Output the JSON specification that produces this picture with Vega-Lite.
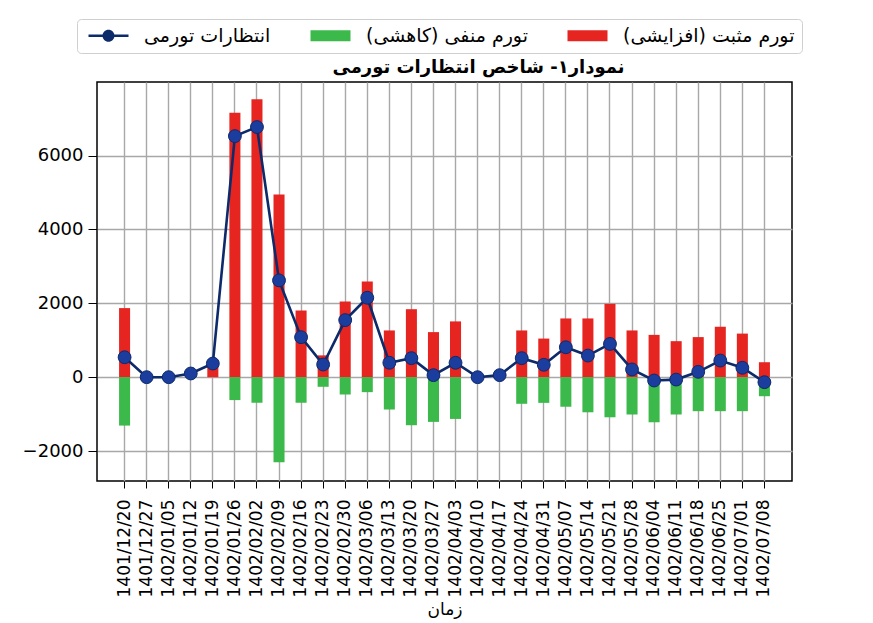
{
  "$schema": "https://vega.github.io/schema/vega-lite/v6.json",
  "autosize": {"type": "none"},
  "padding": {"left": 97, "top": 82, "right": 81, "bottom": 142},
  "width": 695,
  "height": 399,
  "background": "white",
  "title": {
    "text": "نمودار۱- شاخص انتظارات تورمی",
    "font": "DejaVu Sans",
    "fontSize": 18,
    "fontWeight": "bold",
    "color": "#000000",
    "anchor": "middle",
    "dx": 34,
    "offset": -58
  },
  "config": {
    "view": {"stroke": "#000000", "strokeWidth": 1.5},
    "axis": {
      "labelFont": "DejaVu Sans",
      "labelFontSize": 17,
      "labelColor": "#000000",
      "titleFont": "DejaVu Sans",
      "titleFontSize": 17,
      "titleFontWeight": "normal",
      "titleColor": "#000000",
      "domain": false,
      "tickColor": "#000000",
      "tickSize": 7,
      "gridColor": "#a8a8a8",
      "gridWidth": 1.4,
      "gridOpacity": 1
    },
    "legend": {
      "labelFont": "DejaVu Sans",
      "labelFontSize": 19,
      "labelColor": "#000000",
      "labelLimit": 400
    }
  },
  "data": {
    "values": [
      {"date": "1401/12/20", "series": "تورم مثبت (افزایشی)", "value": 1870},
      {"date": "1401/12/20", "series": "تورم منفی (کاهشی)", "value": -1310},
      {"date": "1401/12/20", "series": "انتظارات تورمی", "value": 540},
      {"date": "1401/12/27", "series": "تورم مثبت (افزایشی)", "value": 0},
      {"date": "1401/12/27", "series": "تورم منفی (کاهشی)", "value": 0},
      {"date": "1401/12/27", "series": "انتظارات تورمی", "value": 0},
      {"date": "1402/01/05", "series": "تورم مثبت (افزایشی)", "value": 0},
      {"date": "1402/01/05", "series": "تورم منفی (کاهشی)", "value": 0},
      {"date": "1402/01/05", "series": "انتظارات تورمی", "value": 0},
      {"date": "1402/01/12", "series": "تورم مثبت (افزایشی)", "value": 0},
      {"date": "1402/01/12", "series": "تورم منفی (کاهشی)", "value": 0},
      {"date": "1402/01/12", "series": "انتظارات تورمی", "value": 100},
      {"date": "1402/01/19", "series": "تورم مثبت (افزایشی)", "value": 300},
      {"date": "1402/01/19", "series": "تورم منفی (کاهشی)", "value": 0},
      {"date": "1402/01/19", "series": "انتظارات تورمی", "value": 370},
      {"date": "1402/01/26", "series": "تورم مثبت (افزایشی)", "value": 7160},
      {"date": "1402/01/26", "series": "تورم منفی (کاهشی)", "value": -620},
      {"date": "1402/01/26", "series": "انتظارات تورمی", "value": 6525},
      {"date": "1402/02/02", "series": "تورم مثبت (افزایشی)", "value": 7520},
      {"date": "1402/02/02", "series": "تورم منفی (کاهشی)", "value": -695},
      {"date": "1402/02/02", "series": "انتظارات تورمی", "value": 6770},
      {"date": "1402/02/09", "series": "تورم مثبت (افزایشی)", "value": 4945},
      {"date": "1402/02/09", "series": "تورم منفی (کاهشی)", "value": -2300},
      {"date": "1402/02/09", "series": "انتظارات تورمی", "value": 2620},
      {"date": "1402/02/16", "series": "تورم مثبت (افزایشی)", "value": 1805},
      {"date": "1402/02/16", "series": "تورم منفی (کاهشی)", "value": -695},
      {"date": "1402/02/16", "series": "انتظارات تورمی", "value": 1083},
      {"date": "1402/02/23", "series": "تورم مثبت (افزایشی)", "value": 590},
      {"date": "1402/02/23", "series": "تورم منفی (کاهشی)", "value": -260},
      {"date": "1402/02/23", "series": "انتظارات تورمی", "value": 343},
      {"date": "1402/02/30", "series": "تورم مثبت (افزایشی)", "value": 2050},
      {"date": "1402/02/30", "series": "تورم منفی (کاهشی)", "value": -470},
      {"date": "1402/02/30", "series": "انتظارات تورمی", "value": 1545},
      {"date": "1402/03/06", "series": "تورم مثبت (افزایشی)", "value": 2590},
      {"date": "1402/03/06", "series": "تورم منفی (کاهشی)", "value": -405},
      {"date": "1402/03/06", "series": "انتظارات تورمی", "value": 2150},
      {"date": "1402/03/13", "series": "تورم مثبت (افزایشی)", "value": 1265},
      {"date": "1402/03/13", "series": "تورم منفی (کاهشی)", "value": -875},
      {"date": "1402/03/13", "series": "انتظارات تورمی", "value": 390},
      {"date": "1402/03/20", "series": "تورم مثبت (افزایشی)", "value": 1840},
      {"date": "1402/03/20", "series": "تورم منفی (کاهشی)", "value": -1300},
      {"date": "1402/03/20", "series": "انتظارات تورمی", "value": 515},
      {"date": "1402/03/27", "series": "تورم مثبت (افزایشی)", "value": 1220},
      {"date": "1402/03/27", "series": "تورم منفی (کاهشی)", "value": -1210},
      {"date": "1402/03/27", "series": "انتظارات تورمی", "value": 55},
      {"date": "1402/04/03", "series": "تورم مثبت (افزایشی)", "value": 1510},
      {"date": "1402/04/03", "series": "تورم منفی (کاهشی)", "value": -1130},
      {"date": "1402/04/03", "series": "انتظارات تورمی", "value": 390},
      {"date": "1402/04/10", "series": "تورم مثبت (افزایشی)", "value": 0},
      {"date": "1402/04/10", "series": "تورم منفی (کاهشی)", "value": 0},
      {"date": "1402/04/10", "series": "انتظارات تورمی", "value": 0},
      {"date": "1402/04/17", "series": "تورم مثبت (افزایشی)", "value": 0},
      {"date": "1402/04/17", "series": "تورم منفی (کاهشی)", "value": 0},
      {"date": "1402/04/17", "series": "انتظارات تورمی", "value": 55},
      {"date": "1402/04/24", "series": "تورم مثبت (افزایشی)", "value": 1265},
      {"date": "1402/04/24", "series": "تورم منفی (کاهشی)", "value": -720},
      {"date": "1402/04/24", "series": "انتظارات تورمی", "value": 515},
      {"date": "1402/04/31", "series": "تورم مثبت (افزایشی)", "value": 1045},
      {"date": "1402/04/31", "series": "تورم منفی (کاهشی)", "value": -695},
      {"date": "1402/04/31", "series": "انتظارات تورمی", "value": 335},
      {"date": "1402/05/07", "series": "تورم مثبت (افزایشی)", "value": 1590},
      {"date": "1402/05/07", "series": "تورم منفی (کاهشی)", "value": -800},
      {"date": "1402/05/07", "series": "انتظارات تورمی", "value": 810},
      {"date": "1402/05/14", "series": "تورم مثبت (افزایشی)", "value": 1590},
      {"date": "1402/05/14", "series": "تورم منفی (کاهشی)", "value": -950},
      {"date": "1402/05/14", "series": "انتظارات تورمی", "value": 585},
      {"date": "1402/05/21", "series": "تورم مثبت (افزایشی)", "value": 1985},
      {"date": "1402/05/21", "series": "تورم منفی (کاهشی)", "value": -1085},
      {"date": "1402/05/21", "series": "انتظارات تورمی", "value": 900},
      {"date": "1402/05/28", "series": "تورم مثبت (افزایشی)", "value": 1265},
      {"date": "1402/05/28", "series": "تورم منفی (کاهشی)", "value": -1010},
      {"date": "1402/05/28", "series": "انتظارات تورمی", "value": 210},
      {"date": "1402/06/04", "series": "تورم مثبت (افزایشی)", "value": 1145},
      {"date": "1402/06/04", "series": "تورم منفی (کاهشی)", "value": -1220},
      {"date": "1402/06/04", "series": "انتظارات تورمی", "value": -90},
      {"date": "1402/06/11", "series": "تورم مثبت (افزایشی)", "value": 975},
      {"date": "1402/06/11", "series": "تورم منفی (کاهشی)", "value": -1010},
      {"date": "1402/06/11", "series": "انتظارات تورمی", "value": -65},
      {"date": "1402/06/18", "series": "تورم مثبت (افزایشی)", "value": 1085},
      {"date": "1402/06/18", "series": "تورم منفی (کاهشی)", "value": -920},
      {"date": "1402/06/18", "series": "انتظارات تورمی", "value": 145},
      {"date": "1402/06/25", "series": "تورم مثبت (افزایشی)", "value": 1365},
      {"date": "1402/06/25", "series": "تورم منفی (کاهشی)", "value": -920},
      {"date": "1402/06/25", "series": "انتظارات تورمی", "value": 450},
      {"date": "1402/07/01", "series": "تورم مثبت (افزایشی)", "value": 1180},
      {"date": "1402/07/01", "series": "تورم منفی (کاهشی)", "value": -920},
      {"date": "1402/07/01", "series": "انتظارات تورمی", "value": 255},
      {"date": "1402/07/08", "series": "تورم مثبت (افزایشی)", "value": 405},
      {"date": "1402/07/08", "series": "تورم منفی (کاهشی)", "value": -515},
      {"date": "1402/07/08", "series": "انتظارات تورمی", "value": -135}
    ]
  },
  "encoding": {
    "x": {
      "field": "date",
      "type": "ordinal",
      "sort": null,
      "scale": {"paddingInner": 0.5, "paddingOuter": 1.475},
      "axis": {
        "title": "زمان",
        "labelAngle": -90,
        "labelPadding": 11,
        "titlePadding": 5,
        "grid": true
      }
    },
    "y": {
      "field": "value",
      "type": "quantitative",
      "scale": {"domain": [-2810, 7990], "nice": false, "zero": false},
      "axis": {
        "title": null,
        "values": [-2000, 0, 2000, 4000, 6000],
        "format": "d",
        "labelFontSize": 18,
        "labelPadding": 5,
        "tickSize": 9,
        "grid": true
      }
    }
  },
  "layer": [
    {
      "transform": [{"filter": "datum.series === 'تورم مثبت (افزایشی)'"}],
      "mark": {"type": "bar", "color": "#e62420"}
    },
    {
      "transform": [{"filter": "datum.series === 'تورم منفی (کاهشی)'"}],
      "mark": {"type": "bar", "color": "#3cb94b"}
    },
    {
      "transform": [{"filter": "datum.series === 'انتظارات تورمی'"}],
      "mark": {"type": "line", "color": "#0d2a6a", "strokeWidth": 2.6}
    },
    {
      "transform": [{"filter": "datum.series === 'انتظارات تورمی'"}],
      "mark": {"type": "point", "filled": true, "size": 165, "color": "#1b3d9e", "stroke": "#0d2a6a", "strokeWidth": 1, "opacity": 1}
    },
    {
      "mark": {"type": "point", "filled": true, "opacity": 0},
      "encoding": {
        "color": {
          "field": "series",
          "type": "nominal",
          "scale": {
            "domain": ["انتظارات تورمی", "تورم منفی (کاهشی)", "تورم مثبت (افزایشی)"],
            "range": ["#0d2a6a", "#3cb94b", "#e62420"]
          },
          "legend": {
            "title": null,
            "orient": "none",
            "direction": "horizontal",
            "legendX": -20,
            "legendY": -63,
            "symbolSize": 100,
            "symbolOpacity": 1,
            "symbolStrokeWidth": 0,
            "symbolOffset": 15,
            "labelOffset": 26,
            "labelLimit": 400,
            "columnPadding": 35,
            "padding": 7,
            "strokeColor": "#cfcfcf",
            "fillColor": "#ffffff",
            "cornerRadius": 4
          }
        },
        "shape": {
          "field": "series",
          "type": "nominal",
          "scale": {
            "domain": ["انتظارات تورمی", "تورم منفی (کاهشی)", "تورم مثبت (افزایشی)"],
            "range": [
              "M-4,-0.25H4V0.25H-4Z M1.2,0A1.2,1.2 0 1,1 -1.2,0A1.2,1.2 0 1,1 1.2,0Z",
              "M-4,-1.1H4V1.1H-4Z",
              "M-4,-1.1H4V1.1H-4Z"
            ]
          },
          "legend": null
        }
      }
    }
  ]
}
